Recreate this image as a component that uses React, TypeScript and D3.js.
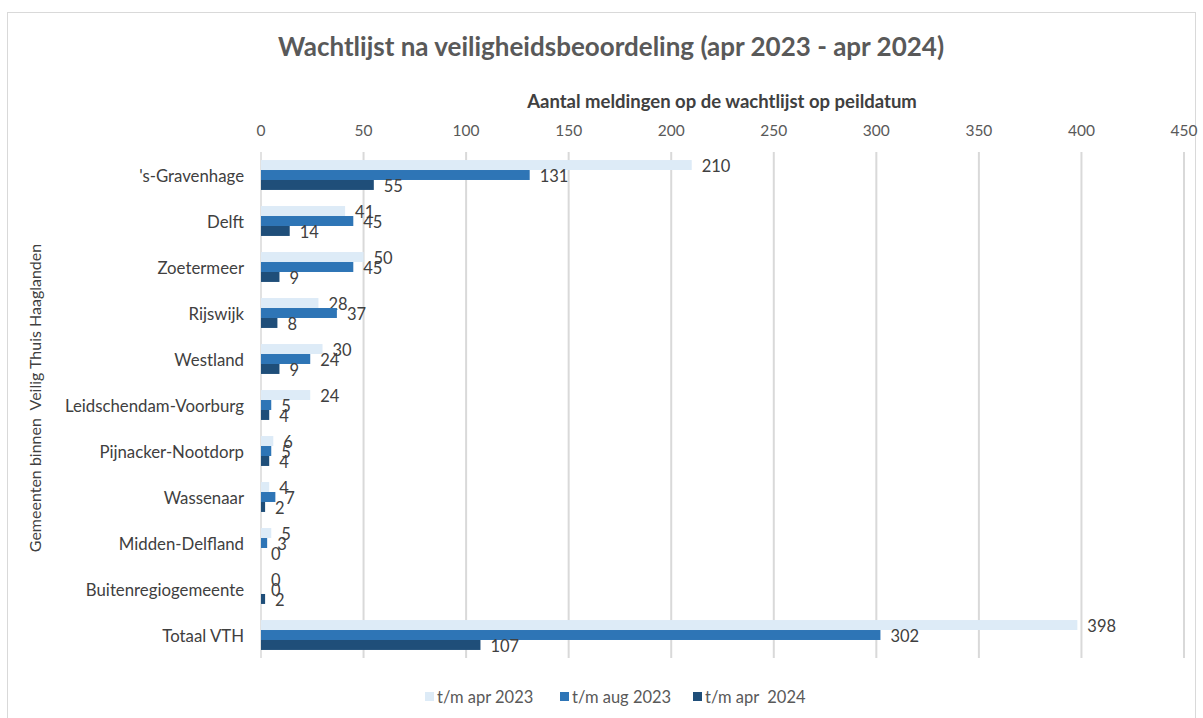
import React from "react";
import * as d3 from "d3";

const categories = [
  "'s-Gravenhage",
  "Delft",
  "Zoetermeer",
  "Rijswijk",
  "Westland",
  "Leidschendam-Voorburg",
  "Pijnacker-Nootdorp",
  "Wassenaar",
  "Midden-Delfland",
  "Buitenregiogemeente",
  "Totaal VTH",
];
const seriesNames = ["t/m apr 2023", "t/m aug 2023", "t/m apr  2024"];
const april2023 = [210, 41, 50, 28, 30, 24, 6, 4, 5, 0, 398];
const august2023 = [131, 45, 45, 37, 24, 5, 5, 7, 3, 0, 302];
const april2024 = [55, 14, 9, 8, 9, 4, 4, 2, 0, 2, 107];
const xTicks = [0, 50, 100, 150, 200, 250, 300, 350, 400, 450];
const colors = ["#DDEBF7", "#2E75B6", "#1F4E79"];

const FONT = "Lato, 'Open Sans', sans-serif";

export default function App() {
  const W = 1203;
  const H = 718;
  const series = [april2023, august2023, april2024];
  const x = d3.scaleLinear().domain([0, 450]).range([261, 1184]);
  const y = d3
    .scaleBand<string>()
    .domain(categories)
    .range([152, 658])
    .paddingInner(0.35)
    .paddingOuter(0.175);
  const inner = d3
    .scaleBand<number>()
    .domain([0, 1, 2])
    .range([0, y.bandwidth()]);

  const legendX = [425, 560, 693];

  return (
    <svg
      width={W}
      height={H}
      style={{ position: "absolute", left: 0, top: 0, display: "block" }}
      fontFamily={FONT}
    >
      <rect x={0} y={0} width={W} height={H} fill="#fff" />
      <rect x={7.5} y={12.5} width={1188} height={720} fill="#fff" stroke="#d9d9d9" strokeWidth={1} />
      <text
        x={611}
        y={56}
        textAnchor="middle"
        fontSize={26}
        fontWeight="bold"
        fill="#595959"
      >
        Wachtlijst na veiligheidsbeoordeling (apr 2023 - apr 2024)
      </text>
      <text
        x={722}
        y={108}
        textAnchor="middle"
        fontSize={18.5}
        fontWeight="bold"
        fill="#404040"
      >
        Aantal meldingen op de wachtlijst op peildatum
      </text>
      {xTicks.map((t) => (
        <g key={t}>
          <line
            x1={x(t)}
            x2={x(t)}
            y1={152}
            y2={658}
            stroke="#d9d9d9"
            strokeWidth={t === 0 ? 1.5 : 2}
          />
          <text
            x={x(t)}
            y={136}
            textAnchor="middle"
            fontSize={15.5}
            fill="#595959"
          >
            {t}
          </text>
        </g>
      ))}
      <text
        transform={`translate(41, 398) rotate(-90)`}
        textAnchor="middle"
        fontSize={16}
        fill="#404040"
        style={{ whiteSpace: "pre" }}
      >
        {"Gemeenten binnen  Veilig Thuis Haaglanden"}
      </text>
      {categories.map((c) => (
        <text
          key={c}
          x={244}
          y={(y(c) as number) + y.bandwidth() / 2}
          textAnchor="end"
          dominantBaseline="central"
          fontSize={16.8}
          fill="#404040"
        >
          {c}
        </text>
      ))}
      {series.map((vals, si) =>
        vals.map((v, i) => {
          const c = categories[i];
          const by = (y(c) as number) + (inner(si) as number);
          const bh = inner.bandwidth();
          return (
            <g key={`${si}-${i}`}>
              {v > 0 && (
                <rect
                  x={x(0)}
                  y={by}
                  width={x(v) - x(0)}
                  height={bh}
                  fill={colors[si]}
                />
              )}
              <text
                x={x(v) + 10}
                y={by + bh / 2 + 1}
                dominantBaseline="central"
                fontSize={16.5}
                fill="#404040"
              >
                {v}
              </text>
            </g>
          );
        })
      )}
      {seriesNames.map((s, i) => (
        <g key={s}>
          <rect x={legendX[i]} y={692} width={9} height={9} fill={colors[i]} />
          <text
            x={legendX[i] + 12}
            y={697}
            dominantBaseline="central"
            fontSize={16.5}
            fill="#595959"
            style={{ whiteSpace: "pre" }}
          >
            {s}
          </text>
        </g>
      ))}
    </svg>
  );
}
